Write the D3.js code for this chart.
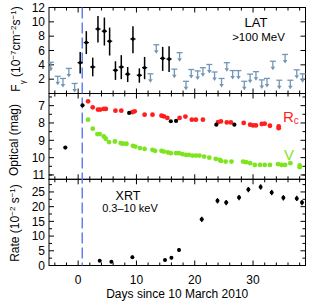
<!DOCTYPE html>
<html><head><meta charset="utf-8">
<script src="https://cdn.jsdelivr.net/npm/d3@7"></script>
<style>html,body{margin:0;padding:0;background:#fff}svg{display:block;font-family:"Liberation Sans",Arial,Helvetica,sans-serif}</style>
</head><body><svg id="c" width="314" height="302"></svg>
<script>
// ---- data ----
const latDays = [0.35, 1.4, 2.5, 3.4, 4.5, 5.4, 6.4, 7.4, 8.5, 9.4, 10.5, 11.4, 14.5, 15.6];
const latFlux = [4.3, 7.1, 3.7, 9.0, 8.7, 7.3, 3.25, 3.7, 2.7, 7.6, 2.55, 3.6, 4.9, 4.8];
const latLo   = [2.8, 5.5, 2.4, 7.1, 6.7, 5.3, 1.9, 2.0, 1.6, 5.6, 1.5, 2.0, 3.15, 3.0];
const latHi   = [5.8, 8.7, 5.0, 10.8, 10.6, 9.2, 4.5, 5.35, 3.7, 9.4, 3.5, 5.1, 6.5, 6.6];
const ulDays = [-4.7, -3.5, -2.6, -1.6, -0.6, 12.4, 13.4, 16.5, 17.4, 18.5, 19.4, 20.5, 21.4, 22.5, 23.4, 24.6, 25.5, 26.5, 27.5, 28.5, 29.5, 30.5, 31.5, 32.4, 33.4, 34.5, 35.5, 36.4, 37.5, 38.5];
const ulFlux = [4.35, 2.4, 2.1, 3.5, 1.4, 2.75, 6.8, 3.4, 5.7, 1.7, 3.35, 3.15, 3.6, 4.05, 3.0, 2.1, 4.3, 3.2, 3.2, 1.7, 2.7, 3.05, 1.9, 2.1, 4.5, 1.85, 5.45, 1.85, 3.3, 2.75];

const optBlackDays = [-2.2, 0.75, 8.75, 15.9, 16.8, 23.7, 26.8];
const optBlackMag  = [9.42, 6.98, 7.42, 7.9, 7.88, 8.1, 8.1];
const rcDays = [1.7, 2.5, 3.4, 3.8, 4.4, 4.75, 6.4, 7.4, 9.3, 9.7, 11.4, 12.75, 14.3, 14.7, 15.3, 17.4, 18.4, 19.5, 20.2, 21.4, 24.0, 24.5, 25.5, 26.2, 28.4, 29.5, 30.0, 30.5, 31.5, 32.0, 32.9, 34.4, 34.4];
const rcMag  = [6.75, 7.1, 7.23, 7.23, 7.19, 7.19, 7.29, 7.29, 7.38, 7.33, 7.52, 7.52, 7.58, 7.62, 7.71, 7.71, 7.63, 7.81, 7.81, 7.81, 7.95, 7.91, 7.97, 7.97, 8.0, 8.1, 8.14, 8.14, 8.06, 8.04, 8.16, 8.2, 8.3];
const vDays = [1.7, 2.5, 3.3, 3.7, 4.4, 4.75, 5.3, 6.3, 7.3, 7.7, 8.3, 9.4, 9.8, 10.6, 11.4, 12.75, 13.2, 14.3, 14.7, 15.4, 15.9, 16.8, 17.3, 17.9, 18.5, 19.0, 19.6, 20.2, 20.8, 21.6, 22.5, 23.6, 24.3, 24.5, 25.3, 26.3, 28.3, 28.8, 29.5, 30.3, 31.2, 32.0, 32.9, 34.3, 34.9, 35.5, 36.4, 38.0, 38.0];
const vMag  = [7.81, 8.33, 8.64, 8.64, 8.78, 8.91, 9.1, 9.07, 9.16, 9.2, 9.2, 9.32, 9.36, 9.45, 9.5, 9.55, 9.61, 9.61, 9.65, 9.7, 9.74, 9.74, 9.74, 9.8, 9.84, 9.84, 9.88, 9.88, 9.88, 9.94, 10.0, 10.07, 10.13, 10.19, 10.23, 10.23, 10.23, 10.26, 10.32, 10.42, 10.42, 10.42, 10.42, 10.38, 10.42, 10.42, 10.32, 10.45, 10.55];

const xrtDays = [3.7, 5.7, 9.3, 14.9, 16.0, 17.3, 21.2, 23.9, 25.4, 27.6, 29.2, 31.3, 33.2, 35.2, 37.5, 38.4];
const xrtRate = [1.6, 1.3, 2.8, 1.85, 2.6, 5.25, 15.7, 22.0, 21.4, 23.1, 25.8, 26.7, 24.8, 23.0, 22.8, 21.4];
const xrtErr  = [0.3, 0.3, 0.6, 0.4, 0.5, 0.7, 0.9, 0.9, 0.9, 0.9, 0.9, 0.9, 0.9, 0.9, 0.9, 0.9];

const triggerDay = 0.7;
const xTickLabels = [0, 10, 20, 30];
const latTickLabels = [2, 4, 6, 8, 10, 12];
const optTickLabels = [7, 8, 9, 10, 11];
const xrtTickLabels = [0, 5, 10, 15, 20, 25];

// ---- layout ----
const svg = d3.select("#c");
const L = 49, R = 305.5;
const x = d3.scaleLinear().domain([-5, 39]).range([L, R]);
const P1 = {top: 7.5, bot: 93.5}, P2 = {top: 93.5, bot: 179.3}, P3 = {top: 179.3, bot: 265.5};
const y1 = d3.scaleLinear().domain([0, 12]).range([P1.bot, P1.top]);
const y2 = d3.scaleLinear().domain([6.3, 11.25]).range([P2.top, P2.bot]);
const y3 = d3.scaleLinear().domain([0, 29.3]).range([P3.bot, P3.top]);

const ULC = "#7396b6", RED = "#ff1f1f", GREEN = "#7de51e", DASH = "#5a78f0";
const FS = 12;

function frame(P, y, majors, minors, labels) {
  const g = svg.append("g");
  const xMinor = d3.range(-4, 39.01, 2);
  xMinor.forEach(d => {
    const len = (d % 10 === 0) ? 5 : 3;
    const px = x(d);
    g.append("line").attr("x1", px).attr("x2", px).attr("y1", P.bot).attr("y2", P.bot - len).attr("stroke", "#000").attr("stroke-width", 1);
    g.append("line").attr("x1", px).attr("x2", px).attr("y1", P.top).attr("y2", P.top + len).attr("stroke", "#000").attr("stroke-width", 1);
  });
  minors.forEach(v => {
    const py = y(v);
    g.append("line").attr("x1", L).attr("x2", L + 3).attr("y1", py).attr("y2", py).attr("stroke", "#000");
    g.append("line").attr("x1", R).attr("x2", R - 3).attr("y1", py).attr("y2", py).attr("stroke", "#000");
  });
  majors.forEach(v => {
    const py = y(v);
    g.append("line").attr("x1", L).attr("x2", L + 5).attr("y1", py).attr("y2", py).attr("stroke", "#000");
    g.append("line").attr("x1", R).attr("x2", R - 5).attr("y1", py).attr("y2", py).attr("stroke", "#000");
  });
  labels.forEach(v => {
    g.append("text").attr("x", 45).attr("y", y(v)).attr("dy", "0.36em").attr("text-anchor", "end")
      .attr("font-size", FS).text(v);
  });
  g.append("rect").attr("x", L).attr("y", P.top).attr("width", R - L).attr("height", P.bot - P.top)
    .attr("fill", "none").attr("stroke", "#000").attr("stroke-width", 1);
}

frame(P1, y1, d3.range(2, 12, 2), [], latTickLabels);
frame(P2, y2, [7, 8, 9, 10, 11], [6.5, 7.5, 8.5, 9.5, 10.5, 11], optTickLabels);
frame(P3, y3, [5, 10, 15, 20, 25], [2.5, 7.5, 12.5, 17.5, 22.5, 27.5], xrtTickLabels);

svg.append("line").attr("x1", x(triggerDay)).attr("x2", x(triggerDay)).attr("y1", P1.top).attr("y2", P3.bot)
  .attr("stroke", DASH).attr("stroke-width", 1.4).attr("stroke-dasharray", "11,4");

// ---- LAT panel ----
const ulG = svg.append("g").attr("stroke", ULC).attr("fill", ULC).attr("stroke-width", 1.3);
ulDays.forEach((d, i) => {
  const px = x(d), py = y1(ulFlux[i]);
  ulG.append("line").attr("x1", px - 3).attr("x2", px + 3).attr("y1", py).attr("y2", py);
  ulG.append("line").attr("x1", px).attr("x2", px).attr("y1", py).attr("y2", py + 6);
  ulG.append("path").attr("stroke", "none").attr("d", `M${px - 2.3},${py + 5.5}L${px + 2.3},${py + 5.5}L${px},${py + 9}Z`);
});
const latG = svg.append("g").attr("stroke", "#000").attr("stroke-width", 1.5);
latDays.forEach((d, i) => {
  const px = x(d);
  latG.append("line").attr("x1", px).attr("x2", px).attr("y1", y1(latLo[i])).attr("y2", y1(latHi[i]));
  latG.append("line").attr("x1", x(d - 0.45)).attr("x2", x(d + 0.45)).attr("y1", y1(latFlux[i])).attr("y2", y1(latFlux[i])).attr("stroke-width", 1.2);
  latG.append("circle").attr("cx", px).attr("cy", y1(latFlux[i])).attr("r", 1.8).attr("fill", "#000").attr("stroke", "none");
});
svg.append("text").attr("x", 256).attr("y", 27).attr("text-anchor", "middle").attr("font-size", 13).text("LAT");
svg.append("text").attr("x", 258.5).attr("y", 41).attr("text-anchor", "middle").attr("font-size", 11.5).text(">100 MeV");

// ---- Optical panel ----
svg.append("g").selectAll("circle").data(vDays).join("circle")
  .attr("cx", d => x(d)).attr("cy", (d, i) => y2(vMag[i])).attr("r", 2.4).attr("fill", GREEN);
svg.append("g").selectAll("circle").data(rcDays).join("circle")
  .attr("cx", d => x(d)).attr("cy", (d, i) => y2(rcMag[i])).attr("r", 2.4).attr("fill", RED);
svg.append("g").selectAll("circle").data(optBlackDays).join("circle")
  .attr("cx", d => x(d)).attr("cy", (d, i) => y2(optBlackMag[i])).attr("r", 2.1).attr("fill", "#000");
const rcT = svg.append("text").attr("x", 283).attr("y", 122).attr("font-size", 15).attr("fill", RED);
rcT.append("tspan").text("R");
rcT.append("tspan").attr("font-size", 10).attr("dy", 2).text("c");
svg.append("text").attr("x", 284).attr("y", 160).attr("font-size", 15).attr("fill", GREEN).text("V");

// ---- XRT panel ----
const xg = svg.append("g").attr("stroke", "#000").attr("stroke-width", 1.4);
xrtDays.forEach((d, i) => {
  const px = x(d);
  xg.append("line").attr("x1", px).attr("x2", px).attr("y1", y3(xrtRate[i] - xrtErr[i])).attr("y2", y3(xrtRate[i] + xrtErr[i]));
  xg.append("circle").attr("cx", px).attr("cy", y3(xrtRate[i])).attr("r", 2).attr("fill", "#000").attr("stroke", "none");
});
svg.append("text").attr("x", 128).attr("y", 199.5).attr("text-anchor", "middle").attr("font-size", 12.5).text("XRT");
svg.append("text").attr("x", 130).attr("y", 212).attr("text-anchor", "middle").attr("font-size", 11).text("0.3\u201310 keV");

// ---- X axis labels ----
xTickLabels.forEach(v => {
  svg.append("text").attr("x", x(v)).attr("y", 283.5).attr("text-anchor", "middle").attr("font-size", FS).text(v);
});
svg.append("text").attr("x", (L + R) / 2).attr("y", 298).attr("text-anchor", "middle").attr("font-size", FS).text("Days since 10 March 2010");

// ---- Y axis titles ----
function ytitle(cx, cy, parts) {
  const t = svg.append("text").attr("transform", `translate(${cx},${cy}) rotate(-90)`).attr("text-anchor", "middle").attr("font-size", FS);
  parts.forEach(p => {
    const s = t.append("tspan").text(p.t);
    if (p.sup) s.attr("font-size", 8).attr("baseline-shift", "super");
    if (p.sub) s.attr("font-size", 8).attr("baseline-shift", "sub");
  });
}
ytitle(19.5, 49, [{t: "F"}, {t: "\u03b3", sub: 1}, {t: " (10"}, {t: "\u22127", sup: 1}, {t: "cm"}, {t: "\u22122", sup: 1}, {t: "s"}, {t: "\u22121", sup: 1}, {t: ")"}]);
ytitle(18, 140, [{t: "Optical (mag)"}]);
ytitle(18.5, 223, [{t: "Rate (10"}, {t: "\u22122", sup: 1}, {t: " s"}, {t: "\u22121", sup: 1}, {t: ")"}]);
</script></body></html>
